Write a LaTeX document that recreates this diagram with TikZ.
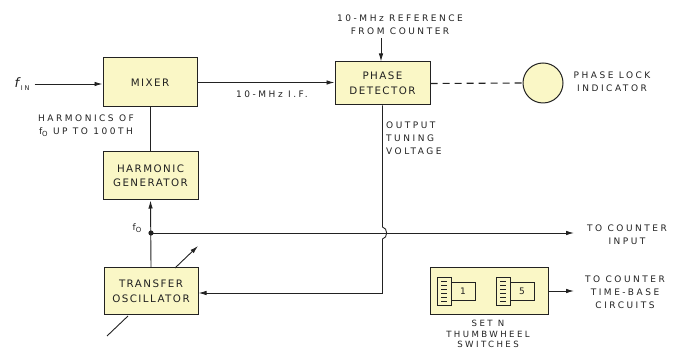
\documentclass[tikz,border=0pt]{standalone}
\usepackage{fontspec}
\setmainfont{DejaVu Sans}
\newfontfamily\boxfont[LetterSpace=14]{DejaVu Sans}
\newfontfamily\lblfont[LetterSpace=28]{DejaVu Sans}
\usetikzlibrary{arrows.meta}
\definecolor{boxfill}{HTML}{FAF7C6}
\definecolor{ink}{HTML}{222222}
\newcommand{\fsub}[1]{f\raisebox{-0.45ex}{\fontsize{7}{8}\selectfont #1}}
\tikzset{
  blk/.style={draw=ink, line width=1pt, fill=boxfill, rectangle, align=center,
    font=\fontsize{10.3}{14.5}\boxfont, text=ink, inner sep=0pt},
  lbl/.style={font=\fontsize{9}{12.8}\lblfont, text=ink, inner sep=0pt},
  wire/.style={draw=ink, line width=0.9pt},
  arr/.style={wire, -{Latex[length=8pt,width=4.5pt]}},
}
\begin{document}
\begin{tikzpicture}[x=1pt,y=-1pt]
\useasboundingbox (0,0) rectangle (674,352);
% blocks
\node[blk, minimum width=94, minimum height=49] (mixer) at (150,82.5) {MIXER};
\node[blk, minimum width=95, minimum height=43] (pd) at (382.5,83.5) {PHASE\\DETECTOR};
\node[blk, minimum width=95, minimum height=48] (hg) at (150.5,176) {HARMONIC\\GENERATOR};
\node[blk, minimum width=94, minimum height=47] (to) at (151,291.5) {TRANSFER\\OSCILLATOR};
\node[blk, minimum width=118, minimum height=47] (tw) at (489,291.5) {};
\node[draw=ink, line width=1pt, fill=boxfill, circle, minimum size=40, inner sep=0pt] (pli) at (543,83) {};
% labels
\node[inner sep=0pt, text=ink] (fin) at (22,84) {\fontsize{13}{13}\selectfont\textit{f}\raisebox{-0.5ex}{\fontsize{6.5}{7}\lblfont IN}};
\node[lbl] (iflbl) at (272,94) {10-MHz I.F.};
\node[lbl, align=center] (reflbl) at (400,25) {10-MHz REFERENCE\\FROM COUNTER};
\node[lbl, align=center] (plilbl) at (612,82) {PHASE LOCK\\INDICATOR};
\node[lbl, align=left, anchor=north west] (otvlbl) at (386,122) {OUTPUT\\TUNING\\VOLTAGE};
\node[lbl, align=center] (harmlbl) at (86,126) {HARMONICS OF\\\fsub{O} UP TO 100TH};
\node[lbl] (folbl) at (137,228) {\fsub{O}};
\node[lbl, align=center] (cinlbl) at (627,235) {TO COUNTER\\INPUT};
\node[lbl, align=center] (tblbl) at (625,292.5) {TO COUNTER\\TIME-BASE\\CIRCUITS};
\node[lbl, align=center, anchor=north, font=\fontsize{8.6}{10.6}\lblfont] (swlbl) at (488,320) {SET N\\THUMBWHEEL\\SWITCHES};
% coordinates
\coordinate (refin) at (381,38);
\coordinate (fo) at (151,233);
\coordinate (cin) at (574,233);
\coordinate (tbout) at (574,291);
\coordinate (otv) at (382.5,293);
\coordinate (jtop) at (382.5,227);
\coordinate (jbot) at (382.5,239);
\coordinate (tuneA) at (175,268);
\coordinate (tuneB) at (198,246);
\coordinate (manA) at (107,336);
\coordinate (manB) at (128,316);
% connectors
\draw[arr] (fin.east) ++(5,0) -- (mixer.west |- fin.east);
\draw[arr] (mixer.east) -- (pd.west |- mixer.east);
\draw[arr] (refin) -- (refin |- pd.north);
\draw[wire, line width=1.1pt, dash pattern=on 7pt off 5pt] (pd.east) -- (pli.west);
\draw[wire] (hg.north) -- (hg.north |- mixer.south);
\draw[arr] (to.north) -- (hg.south);
\fill[ink] (fo) circle (2.6);
\draw[arr] (fo) -- (cin);
\draw[wire] (pd.south) -- (jtop) .. controls (388,228) and (388,238) .. (jbot) -- (otv);
\draw[arr] (otv) -- (otv -| to.east);
\draw[arr] (tw.east |- tbout) -- (tbout);
\draw[arr] (tuneA) -- (tuneB);
\draw[wire] (manA) -- (manB);
% thumbwheel switches
\foreach \x/\d in {437/1, 496/5} {
  \draw[draw=ink, line width=0.8pt] (\x,277) rectangle ++(14,28);
  \foreach \yy in {281,285,289,293,297,301}
    \draw[draw=ink, line width=0.7pt] (\x+4,\yy) -- ++(6,0);
  \draw[draw=ink, line width=0.8pt] (\x+14,282) rectangle ++(24,18);
  \node[lbl] at (\x+26,291) {\d};
}
\end{tikzpicture}
\end{document}
